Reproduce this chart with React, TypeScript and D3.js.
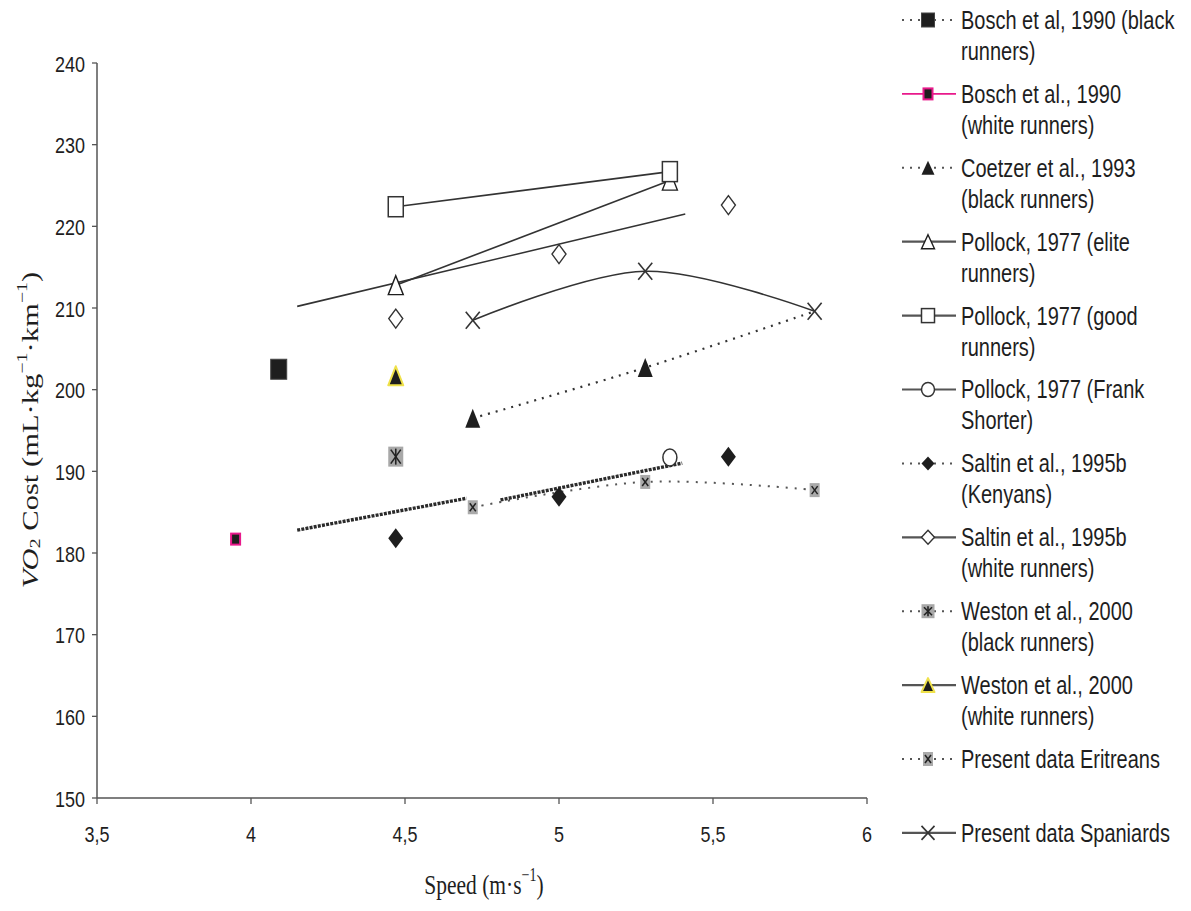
import React from "react";
import * as d3 from "d3";

// Axis ticks
const speedTicks = [3.5, 4, 4.5, 5, 5.5, 6];
const costTicks = [150, 160, 170, 180, 190, 200, 210, 220, 230, 240];

// Series: speed (m/s) and VO2 cost (mL/kg/km)
const boschBlackSpeed = [4.09];
const boschBlackCost = [202.5];
const boschWhiteSpeed = [3.95];
const boschWhiteCost = [181.7];
const coetzerSpeed = [4.72, 5.28, 5.83];
const coetzerCost = [196.5, 202.7, 209.6];
const pollockEliteSpeed = [4.47, 5.36];
const pollockEliteCost = [212.8, 225.6];
const pollockGoodSpeed = [4.47, 5.36];
const pollockGoodCost = [222.4, 226.7];
const shorterSpeed = [5.36];
const shorterCost = [191.7];
const kenyanSpeed = [4.47, 5.0, 5.55];
const kenyanCost = [181.8, 186.9, 191.8];
const saltinWhiteSpeed = [4.47, 5.0, 5.55];
const saltinWhiteCost = [208.7, 216.6, 222.6];
const westonBlackSpeed = [4.47];
const westonBlackCost = [191.8];
const westonWhiteSpeed = [4.47];
const westonWhiteCost = [201.7];
const eritreanSpeed = [4.72, 5.28, 5.83];
const eritreanCost = [185.6, 188.7, 187.7];
const spaniardSpeed = [4.72, 5.28, 5.83];
const spaniardCost = [208.5, 214.5, 209.6];

// Linear trend segments
const trendUpperSpeed = [4.15, 5.41];
const trendUpperCost = [210.2, 221.5];
const trendLowerASpeed = [4.15, 4.7];
const trendLowerACost = [182.8, 186.7];
const trendLowerBSpeed = [4.81, 5.4];
const trendLowerBCost = [186.5, 191.0];

type MarkerKind =
  | "squareFilled"
  | "squarePink"
  | "triFilled"
  | "triOpen"
  | "squareOpen"
  | "circleOpen"
  | "diamondFilled"
  | "diamondOpen"
  | "squareAsterisk"
  | "triYellow"
  | "squareX"
  | "cross";

type LineKind = "dotted" | "solid" | "pink" | "dottedGray";

interface Series {
  label: string[];
  speed: number[];
  cost: number[];
  marker: MarkerKind;
  legendLine: LineKind;
  chartLine: "none" | "dotted" | "solid" | "dottedGray";
  smooth: boolean;
  hiddenMarkers: number[];
  w: number;
  h: number;
}

const series: Series[] = [
  { label: ["Bosch et al, 1990 (black", "runners)"], speed: boschBlackSpeed, cost: boschBlackCost, marker: "squareFilled", legendLine: "dotted", chartLine: "none", smooth: false, hiddenMarkers: [], w: 16, h: 20 },
  { label: ["Bosch et al., 1990", "(white runners)"], speed: boschWhiteSpeed, cost: boschWhiteCost, marker: "squarePink", legendLine: "pink", chartLine: "none", smooth: false, hiddenMarkers: [], w: 11, h: 13 },
  { label: ["Coetzer et al., 1993", "(black runners)"], speed: coetzerSpeed, cost: coetzerCost, marker: "triFilled", legendLine: "dotted", chartLine: "dotted", smooth: true, hiddenMarkers: [2], w: 15, h: 19 },
  { label: ["Pollock, 1977 (elite", "runners)"], speed: pollockEliteSpeed, cost: pollockEliteCost, marker: "triOpen", legendLine: "solid", chartLine: "solid", smooth: false, hiddenMarkers: [], w: 15, h: 19 },
  { label: ["Pollock, 1977 (good", "runners)"], speed: pollockGoodSpeed, cost: pollockGoodCost, marker: "squareOpen", legendLine: "solid", chartLine: "solid", smooth: false, hiddenMarkers: [], w: 15, h: 20 },
  { label: ["Pollock, 1977 (Frank", "Shorter)"], speed: shorterSpeed, cost: shorterCost, marker: "circleOpen", legendLine: "solid", chartLine: "none", smooth: false, hiddenMarkers: [], w: 14, h: 17 },
  { label: ["Saltin et al., 1995b", "(Kenyans)"], speed: kenyanSpeed, cost: kenyanCost, marker: "diamondFilled", legendLine: "dotted", chartLine: "none", smooth: false, hiddenMarkers: [], w: 15, h: 20 },
  { label: ["Saltin et al., 1995b", "(white runners)"], speed: saltinWhiteSpeed, cost: saltinWhiteCost, marker: "diamondOpen", legendLine: "solid", chartLine: "none", smooth: false, hiddenMarkers: [], w: 14, h: 19 },
  { label: ["Weston et al., 2000", "(black runners)"], speed: westonBlackSpeed, cost: westonBlackCost, marker: "squareAsterisk", legendLine: "dotted", chartLine: "none", smooth: false, hiddenMarkers: [], w: 15, h: 20 },
  { label: ["Weston et al., 2000", "(white runners)"], speed: westonWhiteSpeed, cost: westonWhiteCost, marker: "triYellow", legendLine: "solid", chartLine: "none", smooth: false, hiddenMarkers: [], w: 15, h: 19 },
  { label: ["Present data Eritreans"], speed: eritreanSpeed, cost: eritreanCost, marker: "squareX", legendLine: "dotted", chartLine: "dottedGray", smooth: true, hiddenMarkers: [], w: 10, h: 14 },
  { label: ["Present data Spaniards"], speed: spaniardSpeed, cost: spaniardCost, marker: "cross", legendLine: "solid", chartLine: "solid", smooth: true, hiddenMarkers: [], w: 14, h: 17 },
];

const trends = [
  { speed: trendUpperSpeed, cost: trendUpperCost, style: "thin" },
  { speed: trendLowerASpeed, cost: trendLowerACost, style: "thick" },
  { speed: trendLowerBSpeed, cost: trendLowerBCost, style: "thick" },
];

const INK = "#1e1e1e";
const AXIS = "#555";
const PINK = "#e8198b";
const YELLOW = "#efe14a";

function Marker({ kind, x, y, w, h }: { kind: MarkerKind; x: number; y: number; w: number; h: number }) {
  const hw = w / 2;
  const hh = h / 2;
  const tri = `M0,${-hh} L${hw},${hh} L${-hw},${hh} Z`;
  const dia = `M0,${-hh} L${hw},0 L0,${hh} L${-hw},0 Z`;
  let body: React.ReactNode = null;
  switch (kind) {
    case "squareFilled":
      body = <rect x={-hw} y={-hh} width={w} height={h} fill={INK} stroke="#444" strokeWidth={1} />;
      break;
    case "squarePink":
      body = <rect x={-hw + 1} y={-hh + 1} width={w - 2} height={h - 2} fill={INK} stroke={PINK} strokeWidth={2} />;
      break;
    case "triFilled":
      body = <path d={tri} fill={INK} />;
      break;
    case "triOpen":
      body = <path d={tri} fill="#fff" stroke={INK} strokeWidth={1.4} />;
      break;
    case "squareOpen":
      body = <rect x={-hw} y={-hh} width={w} height={h} fill="#fff" stroke="#333" strokeWidth={1.5} />;
      break;
    case "circleOpen":
      body = <ellipse rx={hw} ry={hh} fill="#fff" stroke="#333" strokeWidth={1.5} />;
      break;
    case "diamondFilled":
      body = <path d={dia} fill={INK} />;
      break;
    case "diamondOpen":
      body = <path d={dia} fill="#fff" stroke="#333" strokeWidth={1.4} />;
      break;
    case "squareAsterisk":
      body = (
        <g>
          <rect x={-hw} y={-hh} width={w} height={h} fill="#a8a8a8" />
          <g stroke="#222" strokeWidth={1.6}>
            <line x1={0} y1={-hh + 2} x2={0} y2={hh - 2} />
            <line x1={-hw + 2.5} y1={-hh + 3} x2={hw - 2.5} y2={hh - 3} />
            <line x1={hw - 2.5} y1={-hh + 3} x2={-hw + 2.5} y2={hh - 3} />
          </g>
        </g>
      );
      break;
    case "triYellow":
      body = <path d={tri} fill={INK} stroke={YELLOW} strokeWidth={2} strokeLinejoin="round" />;
      break;
    case "squareX":
      body = (
        <g>
          <rect x={-hw} y={-hh} width={w} height={h} fill="#aaa" />
          <g stroke="#222" strokeWidth={1.5}>
            <line x1={-hw + 2} y1={-hh + 3} x2={hw - 2} y2={hh - 3} />
            <line x1={hw - 2} y1={-hh + 3} x2={-hw + 2} y2={hh - 3} />
          </g>
        </g>
      );
      break;
    case "cross":
      body = (
        <g stroke="#333" strokeWidth={1.6}>
          <line x1={-hw} y1={-hh} x2={hw} y2={hh} />
          <line x1={hw} y1={-hh} x2={-hw} y2={hh} />
        </g>
      );
      break;
  }
  return <g transform={`translate(${x},${y})`}>{body}</g>;
}

function lineStyle(kind: string) {
  switch (kind) {
    case "dotted":
      return { stroke: "#333", strokeWidth: 2.2, strokeDasharray: "2 6" };
    case "dottedGray":
      return { stroke: "#555", strokeWidth: 2, strokeDasharray: "2 7" };
    case "pink":
      return { stroke: PINK, strokeWidth: 1.6 };
    default:
      return { stroke: "#333", strokeWidth: 1.6 };
  }
}

export default function App() {
  const width = 1191;
  const height = 911;
  const x = d3.scaleLinear().domain([3.5, 6]).range([97, 867]);
  const y = d3.scaleLinear().domain([150, 240]).range([798, 63]);

  const fmt = (v: number) => String(v).replace(".", ",");
  const sansFont = "'Liberation Sans', Arial, Helvetica, sans-serif";
  const serifFont = "'Liberation Serif', 'Times New Roman', serif";

  const straight = d3.line<[number, number]>().x((d) => x(d[0])).y((d) => y(d[1]));
  const smooth = d3
    .line<[number, number]>()
    .x((d) => x(d[0]))
    .y((d) => y(d[1]))
    .curve(d3.curveCatmullRom.alpha(0.5));

  const legendX0 = 902;
  const legendX1 = 956;
  const legendMarkX = 928;
  const legendTextX = 961;
  const legendY0 = 20;
  const legendStep = 73.9;

  return (
    <svg width={width} height={height} style={{ display: "block", position: "absolute", left: 0, top: 0, background: "#fff" }}>
      <rect width={width} height={height} fill="#fff" />

      {/* Axes */}
      <g>
        <line x1={97} y1={y(240)} x2={97} y2={y(150)} stroke={AXIS} strokeWidth={1.5} />
        <line x1={97} y1={y(150)} x2={867} y2={y(150)} stroke={AXIS} strokeWidth={1.5} />
        {costTicks.map((t) => (
          <g key={`yt${t}`}>
            <line x1={92} x2={97} y1={y(t)} y2={y(t)} stroke={AXIS} strokeWidth={1.3} />
            <text
              transform={`translate(85,${y(t) + 1}) scale(1,1.22)`}
              textAnchor="end"
              dominantBaseline="central"
              fontFamily={sansFont}
              fontSize={18}
              fill={INK}
            >
              {t}
            </text>
          </g>
        ))}
        {speedTicks.map((t) => (
          <g key={`xt${t}`}>
            <line x1={x(t)} x2={x(t)} y1={y(150)} y2={y(150) + 6} stroke={AXIS} strokeWidth={1.3} />
            <text
              transform={`translate(${x(t)},${834}) scale(1,1.22)`}
              textAnchor="middle"
              dominantBaseline="central"
              fontFamily={sansFont}
              fontSize={18}
              fill={INK}
            >
              {fmt(t)}
            </text>
          </g>
        ))}
        <text
          transform={`translate(484,884) scale(1,1.3)`}
          textAnchor="middle"
          dominantBaseline="central"
          fontFamily={serifFont}
          fontSize={21.5}
          fill={INK}
        >
          Speed (m·s
          <tspan dy={-7} fontSize={14}>−1</tspan>
          <tspan dy={7}>)</tspan>
        </text>
        <text
          transform={`translate(30,430) rotate(-90) scale(1.33,1)`}
          textAnchor="middle"
          dominantBaseline="central"
          fontFamily={serifFont}
          fontSize={23}
          fill={INK}
        >
          <tspan fontStyle="italic">VO</tspan>
          <tspan dy={5} fontSize={15}>2</tspan>
          <tspan dy={-5}> Cost (mL·kg</tspan>
          <tspan dy={-8} fontSize={15}>−1</tspan>
          <tspan dy={8}>·km</tspan>
          <tspan dy={-8} fontSize={15}>−1</tspan>
          <tspan dy={8}>)</tspan>
        </text>
      </g>

      {/* Connecting lines */}
      {series
        .filter((s) => s.chartLine !== "none")
        .map((s, i) => {
          const pts = s.speed.map((v, j) => [v, s.cost[j]] as [number, number]);
          const gen = s.smooth ? smooth : straight;
          return <path key={`l${i}`} d={gen(pts) || ""} fill="none" {...lineStyle(s.chartLine)} />;
        })}

      {/* Trend lines */}
      {trends.map((t, i) => {
        const pts = t.speed.map((v, j) => [v, t.cost[j]] as [number, number]);
        return t.style === "thin" ? (
          <path key={`t${i}`} d={straight(pts) || ""} fill="none" stroke="#333" strokeWidth={1.6} />
        ) : (
          <path key={`t${i}`} d={straight(pts) || ""} fill="none" stroke="#2a2a2a" strokeWidth={3.4} strokeDasharray="3 1.2" />
        );
      })}

      {/* Markers */}
      {series.map((s, i) => (
        <g key={`m${i}`}>
          {s.speed.map((v, j) =>
            s.hiddenMarkers.includes(j) ? null : (
              <Marker key={j} kind={s.marker} x={x(v)} y={y(s.cost[j])} w={s.w} h={s.h} />
            )
          )}
        </g>
      ))}

      {/* Legend */}
      {series.map((s, i) => {
        const cy = legendY0 + i * legendStep;
        return (
          <g key={`lg${i}`}>
            <line x1={legendX0} x2={legendX1} y1={cy} y2={cy} {...(s.legendLine === "dotted" ? { stroke: "#555", strokeWidth: 2, strokeDasharray: "2 6" } : s.legendLine === "pink" ? { stroke: PINK, strokeWidth: 1.6 } : { stroke: "#555", strokeWidth: 2.2 })} />
            <Marker kind={s.marker} x={legendMarkX} y={cy} w={Math.min(s.w, 13)} h={Math.min(s.h, 14)} />
            {s.label.map((ln, k) => (
              <text
                key={k}
                transform={`translate(${legendTextX},${cy + k * 31}) scale(1,1.3)`}
                dominantBaseline="central"
                fontFamily={sansFont}
                fontSize={20}
                fill={INK}
              >
                {ln}
              </text>
            ))}
          </g>
        );
      })}
    </svg>
  );
}
